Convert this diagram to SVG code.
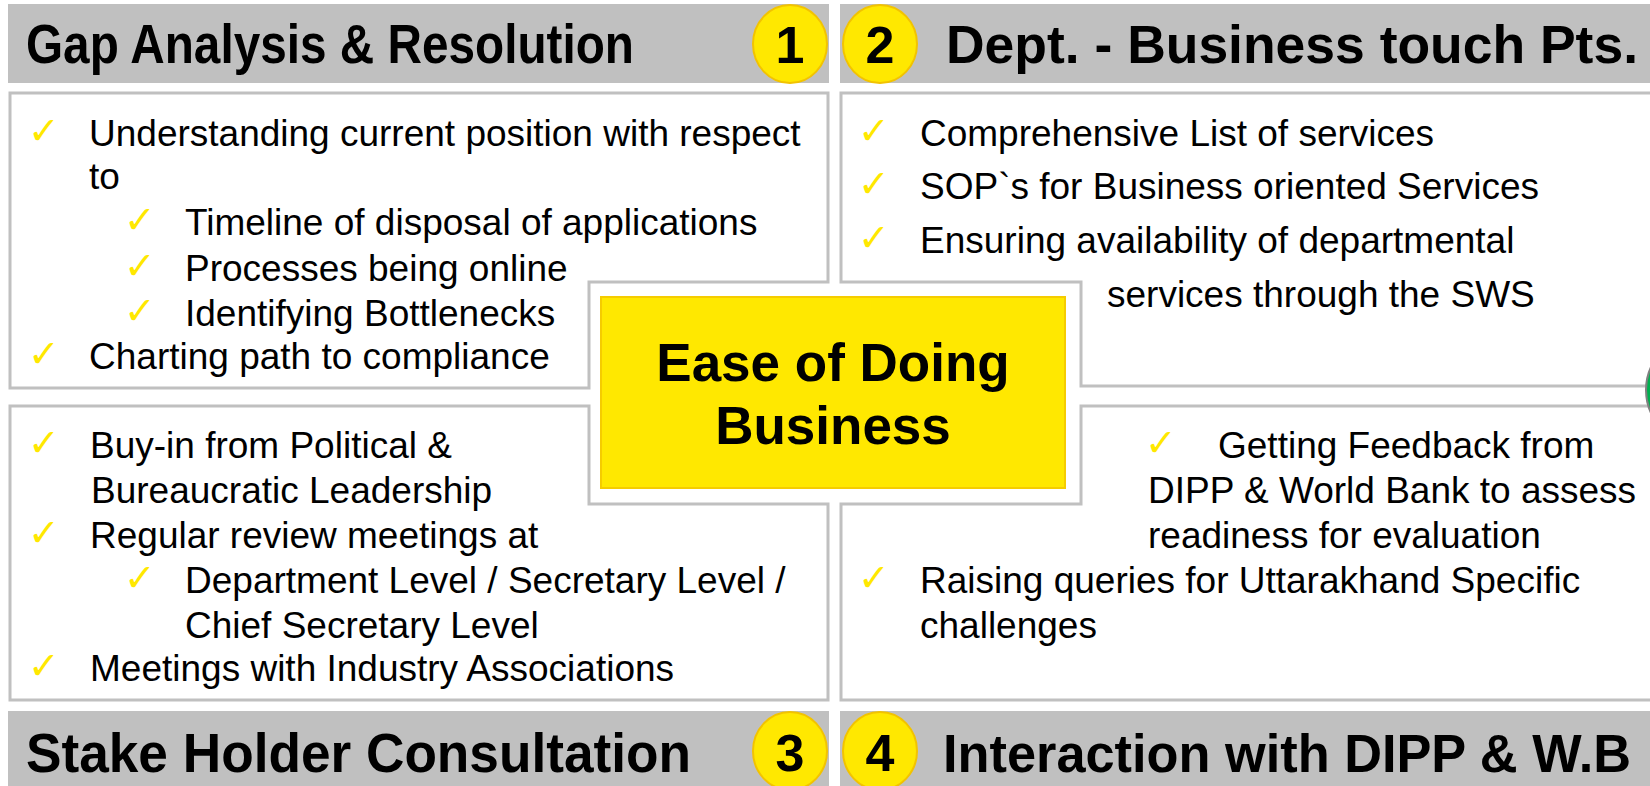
<svg xmlns="http://www.w3.org/2000/svg" width="1650" height="786" viewBox="0 0 1650 786">
<defs>
<style>
.hdr{fill:#C0C0C0}
.panel{fill:#FFFFFF;stroke:#C0C0C0;stroke-width:3}
.num{fill:#FFE800;stroke:#F2C300;stroke-width:2}
.ht{font-family:"Liberation Sans",Arial,sans-serif;font-weight:bold;font-size:56px;fill:#000}
.hr{font-size:53px}
.nt{font-family:"Liberation Sans",Arial,sans-serif;font-weight:bold;font-size:52px;fill:#000;text-anchor:middle}
.bt{font-family:"Liberation Sans",Arial,sans-serif;font-size:37px;fill:#000}
.ck{font-family:"DejaVu Sans",sans-serif;font-size:38px;fill:#FFE800}
.ct{font-family:"Liberation Sans",Arial,sans-serif;font-weight:bold;font-size:53px;fill:#000;text-anchor:middle}
</style>
</defs>
<rect width="1650" height="786" fill="#FFFFFF"/>

<g id="header1">
<rect class="hdr" x="8" y="4" width="821" height="79"/>
<text class="ht" x="26" y="63" textLength="608" lengthAdjust="spacingAndGlyphs">Gap Analysis &amp; Resolution</text>
<ellipse class="num" cx="790" cy="44" rx="37" ry="39"/>
<text class="nt" x="790" y="63">1</text>
</g>

<g id="header2">
<rect class="hdr" x="840" y="4" width="810" height="79"/>
<ellipse class="num" cx="880" cy="44" rx="37" ry="39"/>
<text class="nt" x="880" y="63">2</text>
<text class="ht hr" x="946" y="63" textLength="692" lengthAdjust="spacingAndGlyphs">Dept. - Business touch Pts.</text>
</g>

<g id="header3">
<rect class="hdr" x="8" y="711" width="821" height="75"/>
<text class="ht" x="26" y="772" textLength="665" lengthAdjust="spacingAndGlyphs">Stake Holder Consultation</text>
<ellipse class="num" cx="790" cy="751" rx="37" ry="39"/>
<text class="nt" x="790" y="771">3</text>
</g>

<g id="header4">
<rect class="hdr" x="840" y="711" width="810" height="75"/>
<ellipse class="num" cx="880" cy="751" rx="37" ry="39"/>
<text class="nt" x="880" y="771">4</text>
<text class="ht hr" x="943" y="772" textLength="688" lengthAdjust="spacingAndGlyphs">Interaction with DIPP &amp; W.B</text>
</g>

<g id="panel1">
<path class="panel" d="M10,93 H828 V282 H589 V388 H10 Z"/>
<text class="ck" x="28" y="144">✓</text>
<text class="bt" x="89" y="146">Understanding current position with respect</text>
<text class="bt" x="89" y="189">to</text>
<text class="ck" x="124" y="233">✓</text>
<text class="bt" x="185" y="235">Timeline of disposal of applications</text>
<text class="ck" x="124" y="279">✓</text>
<text class="bt" x="185" y="281">Processes being online</text>
<text class="ck" x="124" y="324">✓</text>
<text class="bt" x="185" y="326">Identifying Bottlenecks</text>
<text class="ck" x="28" y="367">✓</text>
<text class="bt" x="89" y="369">Charting path to compliance</text>
</g>

<g id="panel2">
<path class="panel" d="M841,93 H1662 V386 H1081 V282 H841 Z"/>
<text class="ck" x="858" y="144">✓</text>
<text class="bt" x="920" y="146">Comprehensive List of services</text>
<text class="ck" x="858" y="197">✓</text>
<text class="bt" x="920" y="199">SOP`s for Business oriented Services</text>
<text class="ck" x="858" y="251">✓</text>
<text class="bt" x="920" y="253">Ensuring availability of departmental</text>
<text class="bt" x="1107" y="307">services through the SWS</text>
</g>

<g id="panel3">
<path class="panel" d="M10,406 H589 V504 H828 V700 H10 Z"/>
<text class="ck" x="28" y="456">✓</text>
<text class="bt" x="90" y="458">Buy-in from Political &amp;</text>
<text class="bt" x="91" y="503">Bureaucratic Leadership</text>
<text class="ck" x="28" y="546">✓</text>
<text class="bt" x="90" y="548">Regular review meetings at</text>
<text class="ck" x="124" y="591">✓</text>
<text class="bt" x="185" y="593">Department Level / Secretary Level /</text>
<text class="bt" x="185" y="638">Chief Secretary Level</text>
<text class="ck" x="28" y="679">✓</text>
<text class="bt" x="90" y="681">Meetings with Industry Associations</text>
</g>

<g id="panel4">
<path class="panel" d="M1081,406 H1662 V700 H841 V504 H1081 Z"/>
<text class="ck" x="1145" y="456">✓</text>
<text class="bt" x="1218" y="458">Getting Feedback from</text>
<text class="bt" x="1148" y="503">DIPP &amp; World Bank to assess</text>
<text class="bt" x="1148" y="548">readiness for evaluation</text>
<text class="ck" x="858" y="591">✓</text>
<text class="bt" x="920" y="593">Raising queries for Uttarakhand Specific</text>
<text class="bt" x="920" y="638">challenges</text>
</g>

<g id="center">
<rect x="601" y="297" width="464" height="191" fill="#FFE800" stroke="#F5CC00" stroke-width="2"/>
<text class="ct" x="833" y="381">Ease of Doing</text>
<text class="ct" x="833" y="444">Business</text>
</g>

<g id="edge-circle">
<circle cx="1700" cy="390" r="54" fill="#00B050" stroke="#808080" stroke-width="2"/>
</g>

<g id="connectors"></g>
</svg>
